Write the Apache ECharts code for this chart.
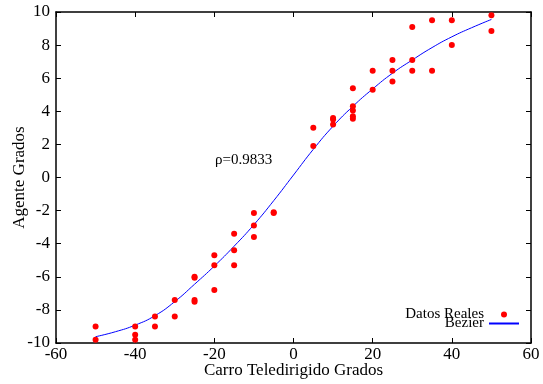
<!DOCTYPE html>
<html>
<head>
<meta charset="utf-8">
<script src="https://cdn.jsdelivr.net/npm/echarts@6/dist/echarts.min.js"></script>
<style>
  html, body { margin: 0; padding: 0; background: #fff; }
  #chart { width: 543px; height: 384px; }
</style>
</head>
<body>
<div id="chart"></div>
<script>
// measured points (carro, agente)
const realX = [-50, -50, -40, -40, -40, -35, -35, -30, -30, -25, -25, -25, -25,
  -20, -20, -20, -15, -15, -15, -10, -10, -10, -5, -5,
  5, 5, 10, 10, 10, 15, 15, 15, 15, 15, 20, 20, 25, 25, 25,
  30, 30, 30, 35, 35, 40, 40, 50, 50]
const realY = [-9.0, -9.8, -9.0, -9.5, -9.8, -8.4, -9.0, -7.4, -8.4, -6.0, -6.05, -7.4, -7.5,
  -4.7, -5.3, -6.8, -3.4, -4.4, -5.3, -2.15, -2.9, -3.6, -2.1, -2.15,
  3.0, 1.9, 3.6, 3.5, 3.2, 5.4, 4.3, 4.05, 3.7, 3.55, 6.45, 5.3, 7.1, 6.45, 5.8,
  9.1, 7.1, 6.45, 9.5, 6.45, 9.5, 8.0, 9.8, 8.85]

// bezier curve
const bezX = [-50, -45, -40, -35, -30, -25, -20, -15, -10, -5, 0, 5, 10, 15, 20, 25, 30, 35, 40, 45, 50]
const bezY = [-9.62, -9.32, -8.92, -8.35, -7.5, -6.45, -5.35, -4.15, -2.85, -1.4, 0.15, 1.7, 3.1, 4.3, 5.35, 6.3, 7.1, 7.85, 8.5, 9.05, 9.55]

const xTicks = [-60, 60, 20]
const yTicks = [-10, 10, 2]
const rho = "ρ=0.9833"

const serif = "Liberation Serif"
const chart = echarts.init(document.getElementById("chart"))

const tickStyle = { show: true, inside: true, length: 5, lineStyle: { color: "#000" } }
const lineStyle = { show: true, onZero: false, lineStyle: { color: "#000", width: 1.5 } }

chart.setOption({
  animation: false,
  grid: { left: 56, right: 12, top: 12, bottom: 41, containLabel: false, outerBoundsMode: "none" },
  xAxis: [
    {
      type: "value", min: xTicks[0], max: xTicks[1], interval: xTicks[2],
      name: "Carro Teledirigido Grados", nameLocation: "middle", nameGap: 19, nameMoveOverlap: false,
      nameTextStyle: { fontFamily: serif, fontSize: 17, color: "#000" },
      axisLine: lineStyle, axisTick: tickStyle, splitLine: { show: false },
      axisLabel: { fontFamily: serif, fontSize: 17, color: "#000", margin: 3 },
    },
    {
      type: "value", position: "top", min: xTicks[0], max: xTicks[1], interval: xTicks[2],
      axisLine: lineStyle, axisTick: tickStyle, splitLine: { show: false },
      axisLabel: { show: false },
    },
  ],
  yAxis: [
    {
      type: "value", min: yTicks[0], max: yTicks[1], interval: yTicks[2],
      name: "Agente Grados", nameLocation: "middle", nameGap: 28, nameRotate: 90, nameMoveOverlap: false,
      nameTextStyle: { fontFamily: serif, fontSize: 17, color: "#000" },
      axisLine: lineStyle, axisTick: tickStyle, splitLine: { show: false },
      axisLabel: { fontFamily: serif, fontSize: 17, color: "#000", margin: 6 },
    },
    {
      type: "value", position: "right", min: yTicks[0], max: yTicks[1], interval: yTicks[2],
      axisLine: lineStyle, axisTick: tickStyle, splitLine: { show: false },
      axisLabel: { show: false },
    },
  ],
  legend: {
    orient: "vertical",
    right: 18,
    top: 302,
    align: "right",
    itemGap: -6,
    itemWidth: 30,
    itemHeight: 6,
    textStyle: { fontFamily: serif, fontSize: 15, color: "#000" },
    data: [
      { name: "Datos Reales", icon: "circle" },
      { name: "Bezier", itemStyle: { opacity: 0 } },
    ],
  },
  graphic: [
    {
      type: "text", left: 215, top: 153,
      style: { text: rho, font: "15px " + serif, fill: "#000" },
    },
  ],
  series: [
    {
      name: "Datos Reales",
      type: "scatter",
      symbolSize: 6,
      itemStyle: { color: "#ff0000", opacity: 1 },
      data: realX.map((x, i) => [x, realY[i]]),
      z: 3,
    },
    {
      name: "Bezier",
      type: "line",
      smooth: 0.5,
      showSymbol: false,
      symbol: "none",
      lineStyle: { color: "#0000ff", width: 1 },
      itemStyle: { color: "#0000ff" },
      data: bezX.map((x, i) => [x, bezY[i]]),
      z: 2,
    },
  ],
})
</script>
</body>
</html>
